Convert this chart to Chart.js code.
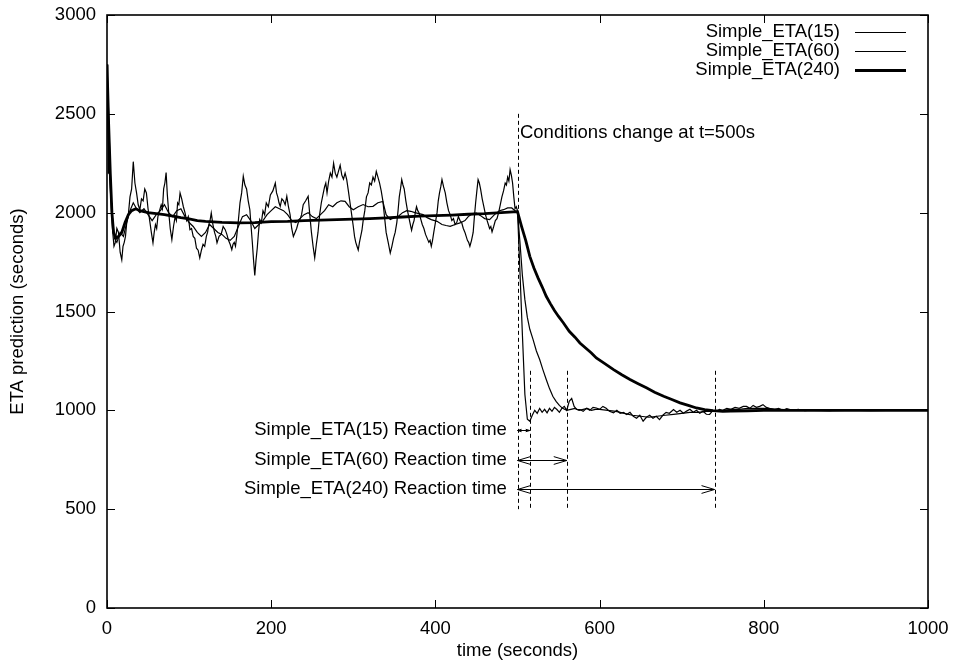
<!DOCTYPE html>
<html>
<head>
<meta charset="utf-8">
<script src="https://cdn.jsdelivr.net/npm/chart.js@4.4.1/dist/chart.umd.min.js"></script>
<style>
  html, body { margin: 0; padding: 0; background: #fff; }
  #wrap { width: 954px; height: 668px; }
</style>
</head>
<body>
<div id="wrap"><canvas id="chart" width="954" height="668"></canvas></div>
<script>
// Simple_ETA(15): noisy, reacts fast
const fastTimes = [0, 0.5, 1, 1.5, 2, 2.5, 3, 4, 5, 6, 7, 8.5, 10, 12, 14, 16, 18, 19.5, 21, 22.5, 24, 26, 28, 30, 32, 34, 36, 38, 40, 42, 44, 46, 48, 50, 52, 54, 56, 57.5, 59, 60.5, 62, 64, 66, 67.5, 69, 70.5, 72, 73.5, 75, 77, 79, 81, 83, 84.5, 86, 87.5, 89, 91, 93, 95, 97, 99, 101, 103, 105, 107, 109, 111, 113, 115, 117, 119, 121, 122.5, 124, 125.5, 127, 129, 131, 132.5, 134, 136.5, 139, 141.5, 144, 146, 148, 150, 152, 153.5, 155, 156.5, 158, 160, 162, 164, 166, 168, 170, 172, 174, 175.5, 177, 178.5, 180, 181.5, 183, 184.5, 186, 188, 190, 192, 194, 196.5, 199, 202, 205, 206.5, 208, 209.5, 211, 213, 215, 217, 219, 221, 223, 225, 227, 229, 231, 233, 235, 237, 239, 242, 245, 247, 249, 251, 253, 255, 257, 259, 261, 263, 265, 266.5, 268, 270, 272, 274, 276, 278, 280, 282, 284, 286, 288, 290, 292, 294, 296, 298, 300, 301.5, 303, 304.5, 306, 307.5, 309, 310.5, 312, 314, 316, 318, 320, 322, 324, 326, 328, 330, 332, 334, 336, 338, 340, 342.5, 345, 347, 349, 351, 353, 354.5, 356, 357.5, 359, 360.5, 362, 364, 366, 367.5, 369, 370, 371, 372.5, 374, 375.5, 377, 378.5, 380, 382, 384, 386, 388, 390, 392, 393.5, 395, 396.5, 398, 400, 402, 403.5, 405, 406.5, 408, 410, 412, 414, 416, 418, 420, 422, 424, 426, 428, 430, 432, 434, 436, 437.5, 439, 440.5, 442, 444, 446, 447.5, 449, 450.5, 452, 453.5, 455, 457, 459, 461, 463, 464.5, 466, 467.5, 469, 471, 473, 475, 477, 479, 481, 483, 485, 486.5, 488, 489.5, 491, 492.5, 494, 495.5, 497, 498.5, 500, 503, 506, 509, 512, 515, 518, 521, 524, 527, 530, 533, 536, 539, 542, 545, 548, 551, 554, 557, 560, 563, 566, 569, 572, 576, 580, 584, 588, 592, 596, 600, 604, 608, 612, 617, 621, 625, 629, 633, 637, 641, 645, 649, 653, 657, 661, 665, 669, 673, 677, 681, 685, 690, 694, 698, 702, 706, 710, 714, 718, 722, 726, 730, 734, 738, 742, 746, 750, 755, 760, 765, 770, 775, 779, 783, 787, 791, 795, 799, 803, 807, 813, 818, 823, 828, 835, 842, 850, 860, 870, 880, 890, 900, 915, 930, 950, 970, 1000];
const fastEta = [2750, 2500, 2600, 2200, 2350, 2300, 2200, 2120, 2050, 1960, 1900, 1830, 1847, 1920, 1900, 1800, 1762, 1830, 1850, 1880, 1948, 1990, 2080, 2120, 2258, 2150, 2100, 2040, 2015, 2070, 2060, 2120, 2100, 2020, 1960, 1900, 1847, 1900, 1940, 1920, 1980, 2010, 2040, 2020, 2120, 2150, 2203, 2090, 2010, 1920, 1864, 1930, 1980, 1960, 2050, 2040, 2100, 2070, 2030, 2000, 1960, 1980, 1914, 1920, 1880, 1870, 1820, 1810, 1771, 1810, 1840, 1830, 1880, 1900, 1940, 1960, 1998, 1940, 1900, 1880, 1847, 1880, 1890, 1930, 1914, 1890, 1860, 1840, 1813, 1840, 1850, 1830, 1880, 1960, 2050, 2100, 2184, 2140, 2120, 2060, 2015, 1930, 1850, 1760, 1682, 1760, 1820, 1900, 1965, 1950, 2010, 1990, 2049, 2030, 2090, 2110, 2150, 2100, 2080, 2050, 2032, 2070, 2060, 2040, 2083, 2030, 1990, 1920, 1880, 1900, 1920, 1950, 1965, 1990, 2040, 2060, 2083, 1990, 1900, 1830, 1771, 1840, 1900, 1990, 2049, 2090, 2130, 2150, 2100, 2160, 2200, 2180, 2250, 2200, 2180, 2210, 2240, 2190, 2170, 2200, 2167, 2110, 2050, 1990, 1930, 1880, 1850, 1830, 1811, 1850, 1880, 1910, 1960, 2010, 2080, 2100, 2150, 2140, 2180, 2160, 2209, 2180, 2150, 2110, 2060, 1980, 1900, 1850, 1796, 1830, 1870, 1900, 1950, 2010, 2080, 2120, 2167, 2140, 2120, 2060, 2010, 1980, 1950, 1930, 1911, 1940, 1960, 2000, 2030, 2010, 2000, 1970, 1940, 1920, 1890, 1870, 1850, 1860, 1830, 1860, 1900, 1950, 2000, 2060, 2100, 2130, 2167, 2130, 2100, 2050, 2010, 1990, 1960, 1970, 1940, 1950, 1980, 1960, 1950, 1920, 1900, 1880, 1860, 1850, 1830, 1860, 1900, 1980, 2050, 2110, 2167, 2150, 2120, 2070, 2030, 1990, 1960, 1940, 1920, 1930, 1903, 1930, 1960, 1970, 2000, 2040, 2080, 2110, 2150, 2140, 2180, 2160, 2218, 2190, 2150, 2080, 2020, 2030, 2010, 1700, 1380, 1080, 955, 945, 975, 1000, 985, 1010, 990, 1005, 987, 1010, 995, 1015, 1004, 990, 1010, 1020, 1000, 1046, 1060, 1020, 1005, 1004, 995, 1010, 1000, 1015, 1012, 1005, 1020, 1010, 995, 987, 1000, 985, 990, 979, 990, 970, 960, 975, 945, 965, 975, 960, 970, 953, 975, 990, 985, 1004, 990, 1000, 985, 996, 1005, 990, 1000, 985, 995, 980, 979, 1000, 995, 1005, 1000, 1010, 1005, 1015, 1010, 1020, 1020, 1010, 1025, 1015, 1020, 1029, 1015, 1010, 1004, 1010, 1000, 1008, 1000, 1005, 998, 1002, 1000, 998, 1002, 1000, 1000, 998, 1000, 1000, 1000];

// Simple_ETA(60): moderate noise
const midTimes = [0, 2, 4, 6, 9, 12, 16, 20, 24, 28, 32, 36, 40, 45, 50, 55, 60, 65, 70, 75, 80, 85, 90, 95, 100, 105, 110, 115, 120, 125, 130, 135, 140, 145, 150, 155, 160, 165, 170, 175, 180, 185, 190, 195, 200, 205, 210, 215, 220, 225, 230, 235, 240, 245, 250, 255, 260, 265, 270, 275, 280, 285, 290, 295, 300, 306, 312, 318, 324, 330, 336, 340, 345, 350, 355, 360, 365, 370, 375, 380, 385, 390, 395, 402, 408, 413, 418, 424, 430, 436, 440, 445, 450, 455, 460, 466, 472, 478, 483, 488, 493, 497, 500, 503, 506, 509, 512, 515, 519, 523, 527, 531, 535, 539, 543, 547, 551, 555, 560, 565, 570, 575, 580, 585, 590, 595, 600, 610, 620, 630, 640, 650, 660, 670, 680, 690, 700, 710, 720, 730, 740, 750, 760, 770, 780, 790, 800, 820, 840, 860, 880, 900, 950, 1000];
const midEta = [2750, 2500, 2200, 2000, 1870, 1850, 1900, 1880, 1950, 2010, 2050, 2020, 2000, 2020, 1990, 1960, 1990, 2010, 2040, 2000, 1980, 2010, 2020, 1980, 1950, 1930, 1900, 1880, 1900, 1940, 1920, 1900, 1890, 1870, 1860, 1880, 1930, 1980, 1990, 1960, 1920, 1940, 1960, 1990, 2010, 2030, 2020, 2010, 1990, 1960, 1950, 1970, 1990, 2000, 1980, 1970, 1990, 2010, 2040, 2030, 2050, 2060, 2057, 2030, 2015, 2030, 2041, 2030, 2032, 2050, 2057, 1990, 1965, 1975, 1982, 2000, 2010, 2007, 2000, 1995, 1990, 1975, 1965, 1956, 1940, 1935, 1931, 1940, 1948, 1960, 1980, 1995, 1998, 1985, 1970, 1965, 1990, 2010, 2015, 2024, 2024, 2010, 2005, 1850, 1680, 1560, 1470, 1410, 1358, 1300, 1257, 1205, 1156, 1110, 1071, 1045, 1025, 1010, 1000, 1005, 1010, 1000, 1005, 1010, 1000, 1005, 1005, 1000, 995, 985, 975, 970, 965, 970, 975, 980, 985, 990, 990, 995, 995, 1000, 1005, 1005, 1010, 1010, 1010, 1005, 1000, 1000, 998, 1000, 1000, 1000];

// Simple_ETA(240): smooth, reacts slowly
const slowTimes = [0, 2, 4, 6, 8, 11, 14, 18, 22, 26, 30, 35, 40, 50, 60, 70, 80, 90, 100, 110, 120, 140, 160, 180, 200, 220, 240, 260, 280, 300, 320, 340, 360, 380, 400, 420, 440, 460, 480, 495, 500, 505, 510, 515, 520, 525, 530, 535, 540, 545, 550, 556, 563, 570, 576, 583, 590, 596, 605, 617, 627, 637, 647, 657, 667, 678, 688, 698, 708, 718, 728, 738, 750, 760, 780, 800, 850, 900, 950, 1000];
const slowEta = [2750, 2450, 2200, 2000, 1900, 1870, 1880, 1900, 1950, 1990, 2010, 2020, 2010, 2000, 1995, 1990, 1983, 1975, 1968, 1960, 1956, 1951, 1948, 1950, 1955, 1956, 1960, 1962, 1965, 1967, 1970, 1974, 1978, 1982, 1985, 1988, 1992, 1995, 2000, 2004, 2005, 1930, 1860, 1779, 1720, 1670, 1625, 1577, 1540, 1505, 1475, 1442, 1400, 1370, 1341, 1315, 1290, 1265, 1240, 1206, 1180, 1156, 1135, 1114, 1092, 1071, 1055, 1038, 1025, 1012, 1004, 998, 995, 996, 998, 1000, 1000, 1000, 1000, 1000];

const seriesNames = ["Simple_ETA(15)", "Simple_ETA(60)", "Simple_ETA(240)"];

const xTicks = { min: 0, max: 1000, step: 200 };
const yTicks = { min: 0, max: 3000, step: 500 };

// annotations (data coordinates)
const changeTime = 500;
const changeLineTop = 2500;
const changeLabel = "Conditions change at t=500s";
const changeLabelAt = [503, 2405];
const reactionEnds = [515, 560, 740];
const reactionLevels = [900, 750, 600];
const reactionLabels = ["Simple_ETA(15) Reaction time", "Simple_ETA(60) Reaction time", "Simple_ETA(240) Reaction time"];
const reactionLabelTime = 487;
const markerTop = 1200;
const markerBottom = 500;

const FAMILY = "'Liberation Sans', Arial, sans-serif";
const SIZE = 18.5;
const FONT = `${SIZE}px ${FAMILY}`;

const toPoints = (ts, vs) => ts.map((t, i) => ({ x: t, y: vs[i] }));

function arrowHead(ctx, tipX, tipY, dir, len, half) {
  ctx.beginPath();
  ctx.moveTo(tipX - dir * len, tipY - half);
  ctx.lineTo(tipX, tipY);
  ctx.lineTo(tipX - dir * len, tipY + half);
  ctx.stroke();
}

const gnuplotLook = {
  id: "gnuplotLook",
  afterDatasetsDraw(chart) {
    const { ctx, chartArea: a, scales: { x, y } } = chart;
    ctx.save();
    ctx.strokeStyle = "#000";
    ctx.fillStyle = "#000";

    // dashed markers
    ctx.lineWidth = 1;
    ctx.setLineDash([4, 3]);
    const vline = (t, top, bottom) => {
      const px = Math.round(x.getPixelForValue(t)) + 0.5;
      ctx.beginPath();
      ctx.moveTo(px, y.getPixelForValue(top));
      ctx.lineTo(px, y.getPixelForValue(bottom));
      ctx.stroke();
    };
    vline(changeTime, changeLineTop, markerBottom);
    reactionEnds.forEach((t) => vline(t, markerTop, markerBottom));
    ctx.setLineDash([]);

    // double-headed arrows
    reactionEnds.forEach((t, i) => {
      const x0 = x.getPixelForValue(changeTime);
      const x1 = x.getPixelForValue(t);
      const py = Math.round(y.getPixelForValue(reactionLevels[i])) + 0.5;
      const len = Math.min(13, (x1 - x0) / 3);
      const half = len * 0.3;
      ctx.beginPath();
      ctx.moveTo(x0, py);
      ctx.lineTo(x1, py);
      ctx.stroke();
      arrowHead(ctx, x0, py, -1, len, half);
      arrowHead(ctx, x1, py, 1, len, half);
    });

    // labels
    ctx.font = FONT;
    ctx.textBaseline = "middle";
    ctx.textAlign = "right";
    reactionLabels.forEach((txt, i) => {
      ctx.fillText(txt, x.getPixelForValue(reactionLabelTime), y.getPixelForValue(reactionLevels[i]));
    });
    ctx.textAlign = "left";
    ctx.fillText(changeLabel, x.getPixelForValue(changeLabelAt[0]), y.getPixelForValue(changeLabelAt[1]));

    // frame with inward ticks on all sides
    ctx.lineWidth = 1;
    const tick = 8;
    x.ticks.forEach((tk) => {
      const px = Math.round(x.getPixelForValue(tk.value)) + 0.5;
      ctx.beginPath();
      ctx.moveTo(px, a.bottom); ctx.lineTo(px, a.bottom - tick);
      ctx.moveTo(px, a.top); ctx.lineTo(px, a.top + tick);
      ctx.stroke();
    });
    y.ticks.forEach((tk) => {
      const py = Math.round(y.getPixelForValue(tk.value)) + 0.5;
      ctx.beginPath();
      ctx.moveTo(a.left, py); ctx.lineTo(a.left + tick, py);
      ctx.moveTo(a.right, py); ctx.lineTo(a.right - tick, py);
      ctx.stroke();
    });
    ctx.lineWidth = 1.6;
    ctx.strokeRect(a.left, a.top, a.right - a.left, a.bottom - a.top);

    // key, top right
    const keyRight = 840;
    const sampleX = [855, 906];
    const rowY = [32, 51, 70];
    ctx.textAlign = "right";
    chart.data.datasets.forEach((ds, i) => {
      ctx.fillText(ds.label, keyRight, rowY[i]);
      ctx.lineWidth = ds.borderWidth;
      ctx.beginPath();
      ctx.moveTo(sampleX[0], rowY[i] + 0.5);
      ctx.lineTo(sampleX[1], rowY[i] + 0.5);
      ctx.stroke();
    });
    ctx.restore();
  },
};

const lineStyle = { borderColor: "#000", pointRadius: 0, tension: 0, fill: false };
const tickFont = { family: FAMILY, size: SIZE };

new Chart(document.getElementById("chart"), {
  type: "line",
  data: {
    datasets: [
      { ...lineStyle, label: seriesNames[0], data: toPoints(fastTimes, fastEta), borderWidth: 1.2 },
      { ...lineStyle, label: seriesNames[1], data: toPoints(midTimes, midEta), borderWidth: 1.2 },
      { ...lineStyle, label: seriesNames[2], data: toPoints(slowTimes, slowEta), borderWidth: 2.8 },
    ],
  },
  options: {
    responsive: false,
    devicePixelRatio: 1,
    animation: false,
    layout: { padding: { left: 0, right: 26, top: 15, bottom: 0 } },
    plugins: { legend: { display: false }, tooltip: { enabled: false } },
    scales: {
      x: {
        type: "linear",
        min: xTicks.min,
        max: xTicks.max,
        ticks: { stepSize: xTicks.step, color: "#000", font: tickFont, padding: 10, maxRotation: 0, callback: (v) => String(v) },
        grid: { display: false, drawTicks: false },
        border: { display: false },
        title: { display: true, text: "time (seconds)", color: "#000", font: tickFont, padding: { top: 0, bottom: 6 } },
        afterFit: (s) => { s.height = 60; s.paddingLeft = 0; s.paddingRight = 0; },
      },
      y: {
        min: yTicks.min,
        max: yTicks.max,
        ticks: { stepSize: yTicks.step, color: "#000", font: tickFont, padding: 11, callback: (v) => String(v) },
        grid: { display: false, drawTicks: false },
        border: { display: false },
        title: { display: true, text: "ETA prediction (seconds)", color: "#000", font: tickFont, padding: { top: 7, bottom: 0 } },
        afterFit: (s) => { s.width = 107; s.paddingTop = 0; s.paddingBottom = 0; },
      },
    },
  },
  plugins: [gnuplotLook],
});
</script>
</body>
</html>
